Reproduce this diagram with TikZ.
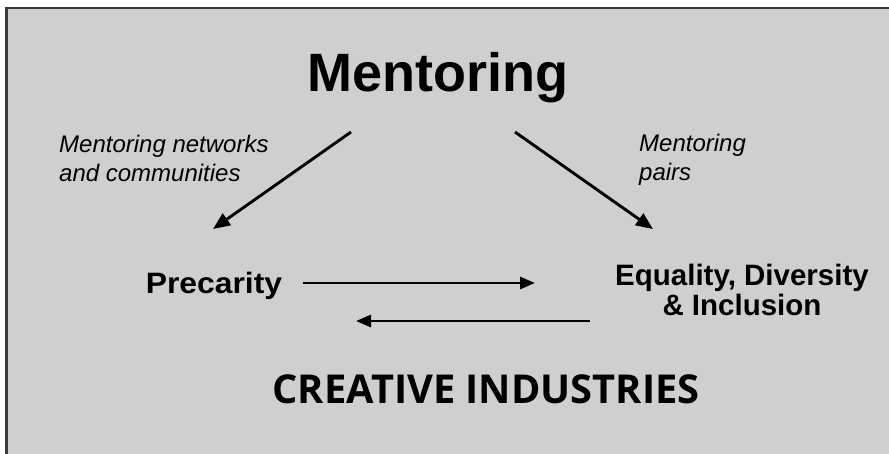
\documentclass[tikz,border=0pt]{standalone}
\usepackage{fontspec}
\setmainfont{Liberation Sans}
\newfontfamily\headfont{Open Sans}
\usetikzlibrary{arrows.meta}
\definecolor{panelgrey}{HTML}{CFCFCF}
\definecolor{framegrey}{HTML}{3A3A3A}
\tikzset{
  flow/.style={line width=2.9pt, draw=black, -{Triangle[length=15pt,width=12pt]}},
  slant/.style={flow, -{Triangle[length=17pt,width=14pt]}},
  title/.style={font=\fontsize{54}{60}\selectfont\bfseries, anchor=base west, inner sep=0pt},
  topic/.style={font=\fontsize{29.5}{30}\selectfont\bfseries, align=center, inner sep=0pt},
  route/.style={font=\fontsize{24}{29.5}\selectfont\itshape, align=left, anchor=base west, inner sep=0pt},
  sector/.style={font=\headfont\fontsize{39.8}{44}\selectfont\bfseries, anchor=base, inner sep=0pt}
}
\begin{document}
\begin{tikzpicture}[x=1pt,y=-1pt]
  \useasboundingbox (0,0) rectangle (889,453);
  % panel, running off the right and lower edges
  \begin{scope}
    \clip (0,0) rectangle (889,453);
    \draw[fill=panelgrey, draw=framegrey, line width=2.4pt] (6.5,8) rectangle (905,470);
  \end{scope}

  % texts (base of a two-line node is the baseline of its last line)
  \node[title] (ment) at (307,91) {Mentoring};
  \node[route] (netw) at (59,181.5) {Mentoring networks\\and communities};
  \node[route] (pair) at (639,180.5) {Mentoring\\pairs};
  \node[topic, anchor=base] (prec) at (214,293) {\scalebox{1.08}[1]{Precarity}};
  \node[topic, anchor=base] (edi) at (742,315) {Equality, Diversity\\\& Inclusion};
  \node[sector] (ci) at (486,403) {CREATIVE INDUSTRIES};

  % connector ends
  \coordinate (mentL) at (351,132);
  \coordinate (precT) at (213,229);
  \coordinate (mentR) at (515,132);
  \coordinate (ediT)  at (653,229);
  \coordinate (precR) at (303,283);
  \coordinate (ediL)  at (535,283);
  \coordinate (ediB)  at (590,321);
  \coordinate (precB) at (356,321);

  % connectors
  \draw[slant] (mentL) -- (precT);
  \draw[slant] (mentR) -- (ediT);
  \draw[flow] (precR) -- (ediL);
  \draw[flow] (ediB) -- (precB);
\end{tikzpicture}
\end{document}
